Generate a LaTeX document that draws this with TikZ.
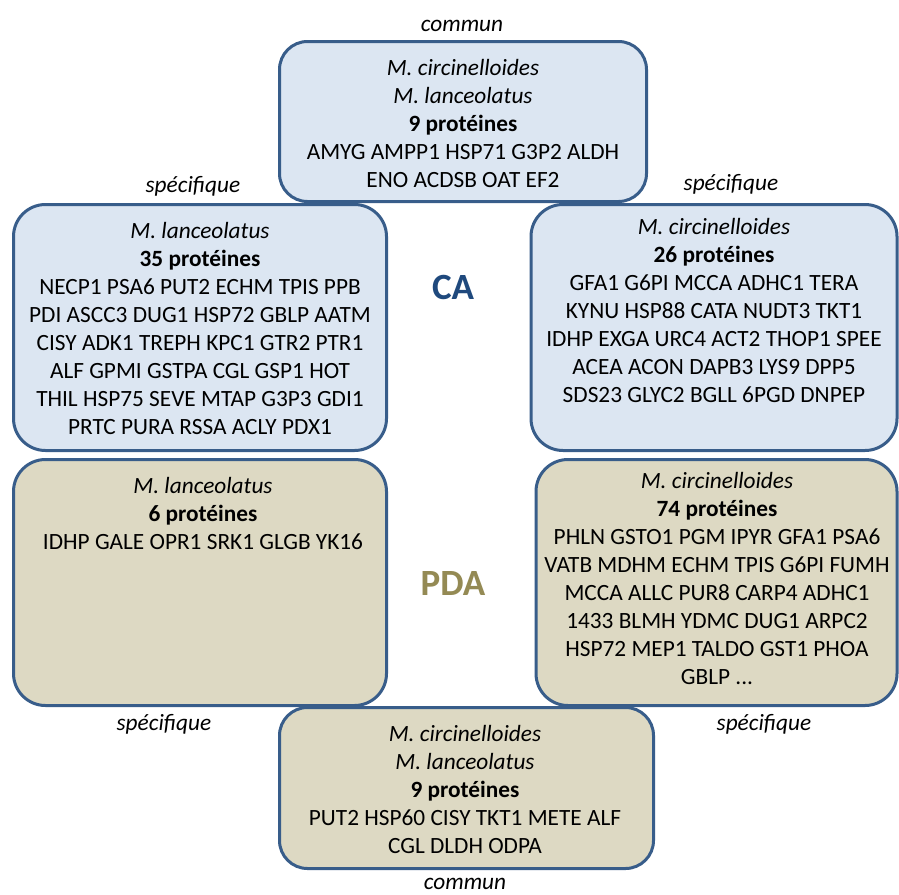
\documentclass[tikz,border=0pt]{standalone}
\usepackage{fontspec}
\setmainfont{Carlito}
\definecolor{edgeblue}{RGB}{56,93,138}
\definecolor{cafill}{RGB}{220,230,242}
\definecolor{pdafill}{RGB}{221,217,195}
\definecolor{catext}{RGB}{31,73,125}
\definecolor{pdatext}{RGB}{148,138,84}
\begin{document}
\begin{tikzpicture}[x=1pt,y=-1pt,
  box/.style={draw=edgeblue, line width=3pt, rounded corners=32pt, inner sep=0pt},
  cabox/.style={box, fill=cafill},
  pdabox/.style={box, fill=pdafill},
  txt/.style={font=\fontsize{23.3}{28}\selectfont, align=center, inner sep=0pt, anchor=base},
  lab/.style={font=\fontsize{23.3}{28}\selectfont\itshape, inner sep=0pt, anchor=base},
  big/.style={font=\fontsize{37}{40}\selectfont\bfseries, inner sep=0pt, anchor=base}]
\useasboundingbox[fill=white] (0,0) rectangle (899,894);
% boxes
\node[cabox, minimum width=373pt, minimum height=246pt] (caL) at (200,327.5) {};
\node[cabox, minimum width=366pt, minimum height=246pt] (caR) at (714,327.5) {};
\node[pdabox, minimum width=373pt, minimum height=246pt] (pdaL) at (200,582.5) {};
\node[pdabox, minimum width=361pt, minimum height=246pt] (pdaR) at (716.5,582.5) {};
\node[cabox, rounded corners=28pt, minimum width=367pt, minimum height=160pt] (topC) at (463,121.5) {};
\node[pdabox, rounded corners=28pt, minimum width=374pt, minimum height=161pt] (botC) at (466.5,788) {};
% texts (base anchor = baseline of the last line)
\node[txt] (topT) at (463,187) {\textit{M. circinelloides}\\ \textit{M. lanceolatus}\\ \textbf{9 protéines}\\ AMYG AMPP1 HSP71 G3P2 ALDH\\ ENO ACDSB OAT EF2};
\node[txt] (caLT) at (200,434) {\textit{M. lanceolatus}\\ \textbf{35 protéines}\\ NECP1 PSA6 PUT2 ECHM TPIS PPB\\ PDI ASCC3 DUG1 HSP72 GBLP AATM\\ CISY ADK1 TREPH KPC1 GTR2 PTR1\\ ALF GPMI GSTPA CGL GSP1 HOT\\ THIL HSP75 SEVE MTAP G3P3 GDI1\\ PRTC PURA RSSA ACLY PDX1};
\node[txt] (caRT) at (714,402) {\textit{M. circinelloides}\\ \textbf{26 protéines}\\ GFA1 G6PI MCCA ADHC1 TERA\\ KYNU HSP88 CATA NUDT3 TKT1\\ IDHP EXGA URC4 ACT2 THOP1 SPEE\\ ACEA ACON DAPB3 LYS9 DPP5\\ SDS23 GLYC2 BGLL 6PGD DNPEP};
\node[txt] (pdaLT) at (203,549) {\textit{M. lanceolatus}\\ \textbf{6 protéines}\\ IDHP GALE OPR1 SRK1 GLGB YK16};
\node[txt] (pdaRT) at (717,684) {\textit{M. circinelloides}\\ \textbf{74 protéines}\\ PHLN GSTO1 PGM IPYR GFA1 PSA6\\ VATB MDHM ECHM TPIS G6PI FUMH\\ MCCA ALLC PUR8 CARP4 ADHC1\\ 1433 BLMH YDMC DUG1 ARPC2\\ HSP72 MEP1 TALDO GST1 PHOA\\ GBLP ...};
\node[txt] (botT) at (465,853) {\textit{M. circinelloides}\\ \textit{M. lanceolatus}\\ \textbf{9 protéines}\\ PUT2 HSP60 CISY TKT1 METE ALF\\ CGL DLDH ODPA};
% labels
\node[lab] (commTop) at (462,31) {commun};
\node[lab] (commBot) at (465,889) {commun};
\node[lab] (specTL) at (193,192) {spécifique};
\node[lab] (specTR) at (731,190) {spécifique};
\node[lab] (specBL) at (164,730) {spécifique};
\node[lab] (specBR) at (764,730) {spécifique};
\node[big, text=catext] (caLab) at (453,299) {CA};
\node[big, text=pdatext] (pdaLab) at (453,595) {PDA};
\end{tikzpicture}
\end{document}
